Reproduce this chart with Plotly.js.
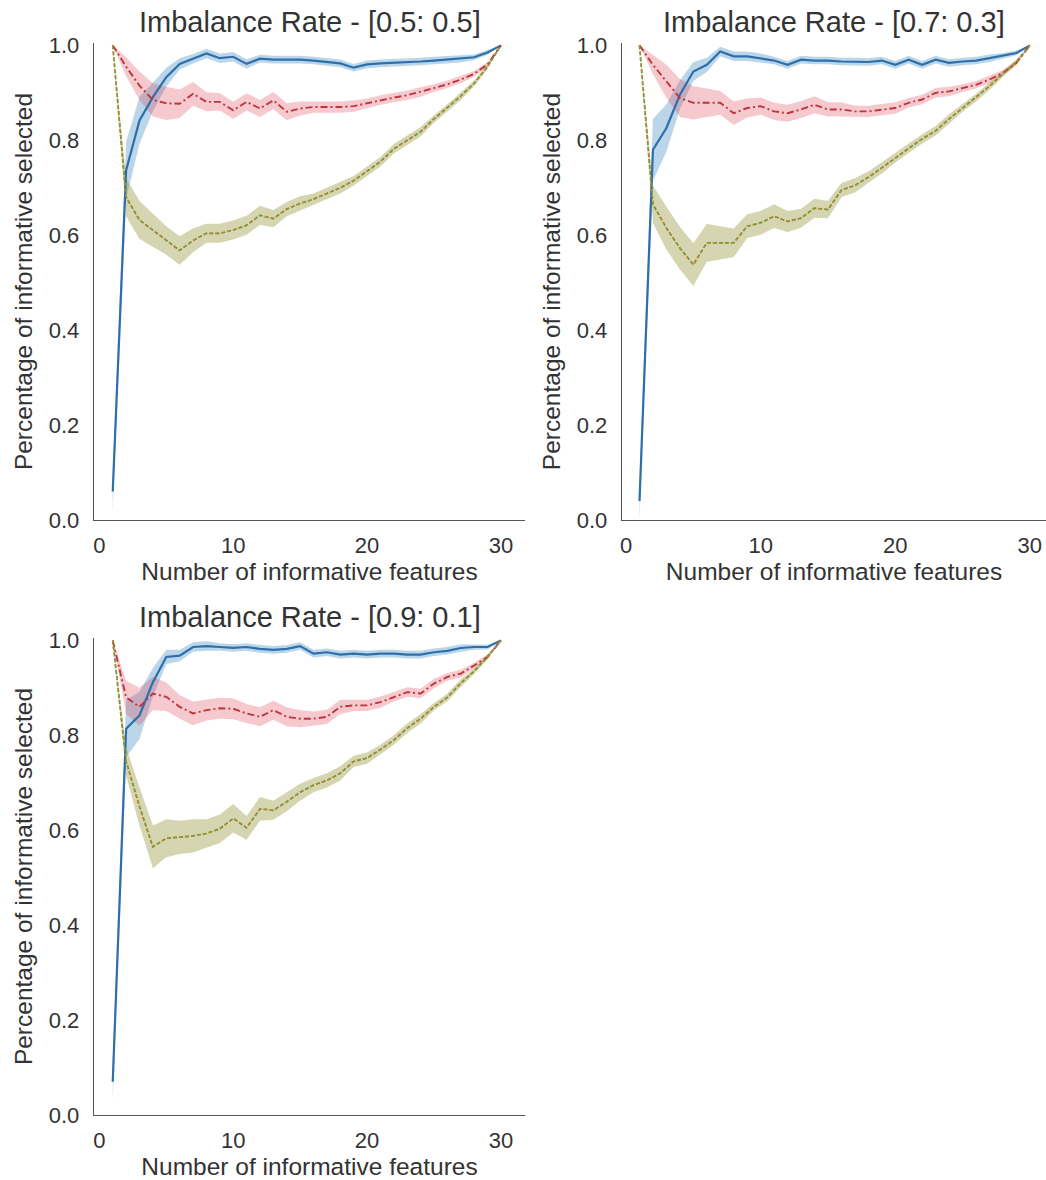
<!DOCTYPE html>
<html>
<head>
<meta charset="utf-8">
<script src="https://cdn.plot.ly/plotly-3.0.1.min.js"></script>
<style>
  html, body { margin: 0; padding: 0; background: #ffffff; }
  #chart { width: 1046px; height: 1180px; }
</style>
</head>
<body>
<div id="chart"></div>
<script>
// Number of informative features (x) shared by every panel
const nFeatures = [1,2,3,4,5,6,7,8,9,10,11,12,13,14,15,16,17,18,19,20,21,22,23,24,25,26,27,28,29,30];

const panelTitles = [
  'Imbalance Rate - [0.5: 0.5]',
  'Imbalance Rate - [0.7: 0.3]',
  'Imbalance Rate - [0.9: 0.1]'
];

const xTickVals = [0, 10, 20, 30];
const yTickVals = [0.0, 0.2, 0.4, 0.6, 0.8, 1.0];

// ---- Imbalance 0.5 : 0.5 ----
const blueA = [0.06,0.737,0.842,0.891,0.933,0.961,0.972,0.983,0.973,0.976,0.961,0.972,0.970,0.970,0.970,0.968,0.965,0.962,0.953,0.960,0.962,0.963,0.965,0.966,0.968,0.970,0.972,0.975,0.985,1.0];
const blueErrA = [0.04,0.06,0.05,0.03,0.02,0.012,0.01,0.01,0.01,0.01,0.01,0.008,0.008,0.008,0.008,0.008,0.008,0.008,0.008,0.008,0.008,0.008,0.008,0.008,0.008,0.008,0.008,0.006,0.005,0];
const redA = [1.0,0.955,0.915,0.885,0.878,0.877,0.898,0.881,0.881,0.863,0.881,0.867,0.884,0.860,0.867,0.870,0.870,0.870,0.872,0.878,0.885,0.890,0.895,0.902,0.910,0.918,0.928,0.940,0.960,1.0];
const redErrA = [0,0.02,0.03,0.035,0.035,0.03,0.025,0.02,0.018,0.018,0.018,0.018,0.018,0.018,0.015,0.012,0.012,0.012,0.012,0.01,0.01,0.01,0.01,0.01,0.008,0.008,0.008,0.006,0.005,0];
const greenA = [1.0,0.68,0.632,0.611,0.589,0.568,0.589,0.604,0.604,0.611,0.621,0.642,0.635,0.655,0.667,0.676,0.688,0.700,0.715,0.735,0.755,0.782,0.800,0.818,0.845,0.868,0.893,0.92,0.955,1.0];
const greenErrA = [0,0.04,0.04,0.035,0.03,0.03,0.025,0.02,0.02,0.02,0.02,0.02,0.018,0.015,0.015,0.012,0.012,0.012,0.01,0.01,0.01,0.01,0.01,0.01,0.008,0.008,0.008,0.006,0.005,0];

// ---- Imbalance 0.7 : 0.3 ----
const blueB = [0.04,0.78,0.826,0.896,0.945,0.959,0.987,0.977,0.977,0.973,0.968,0.959,0.970,0.968,0.968,0.966,0.966,0.965,0.968,0.959,0.970,0.959,0.970,0.963,0.966,0.968,0.973,0.978,0.984,1.0];
const blueErrB = [0.04,0.065,0.05,0.03,0.02,0.015,0.01,0.01,0.01,0.01,0.008,0.008,0.008,0.008,0.008,0.008,0.008,0.008,0.008,0.008,0.008,0.008,0.008,0.008,0.008,0.008,0.008,0.006,0.005,0];
const redB = [1.0,0.959,0.924,0.889,0.879,0.879,0.879,0.857,0.868,0.872,0.861,0.857,0.865,0.875,0.865,0.865,0.861,0.861,0.865,0.868,0.879,0.886,0.900,0.903,0.910,0.917,0.928,0.942,0.963,1.0];
const redErrB = [0,0.02,0.035,0.04,0.035,0.03,0.025,0.025,0.02,0.018,0.018,0.018,0.018,0.018,0.015,0.015,0.012,0.012,0.012,0.012,0.01,0.01,0.01,0.01,0.008,0.008,0.008,0.006,0.005,0];
const greenB = [1.0,0.665,0.615,0.573,0.538,0.584,0.584,0.584,0.619,0.626,0.640,0.629,0.636,0.657,0.654,0.695,0.705,0.722,0.742,0.763,0.783,0.803,0.820,0.845,0.868,0.890,0.914,0.940,0.965,1.0];
const greenErrB = [0,0.04,0.045,0.045,0.045,0.04,0.035,0.03,0.025,0.025,0.025,0.022,0.02,0.02,0.018,0.015,0.015,0.012,0.012,0.01,0.01,0.01,0.01,0.01,0.008,0.008,0.008,0.006,0.005,0];

// ---- Imbalance 0.9 : 0.1 ----
const blueC = [0.07,0.814,0.842,0.912,0.965,0.968,0.986,0.988,0.986,0.984,0.986,0.982,0.980,0.982,0.988,0.972,0.975,0.970,0.972,0.970,0.972,0.972,0.970,0.970,0.975,0.978,0.984,0.986,0.986,1.0];
const blueErrC = [0.04,0.06,0.05,0.03,0.015,0.012,0.01,0.01,0.008,0.008,0.008,0.008,0.008,0.008,0.008,0.008,0.008,0.008,0.008,0.008,0.008,0.008,0.008,0.008,0.008,0.008,0.008,0.006,0.005,0];
const redC = [1.0,0.88,0.86,0.888,0.881,0.860,0.846,0.853,0.857,0.856,0.846,0.839,0.853,0.839,0.835,0.835,0.839,0.860,0.863,0.863,0.870,0.881,0.891,0.888,0.909,0.923,0.930,0.947,0.965,1.0];
const redErrC = [0,0.035,0.04,0.035,0.03,0.025,0.025,0.022,0.022,0.022,0.02,0.02,0.02,0.02,0.018,0.015,0.015,0.015,0.012,0.012,0.012,0.01,0.01,0.01,0.01,0.008,0.008,0.006,0.005,0];
const greenC = [1.0,0.745,0.65,0.565,0.583,0.585,0.588,0.593,0.603,0.625,0.605,0.645,0.642,0.660,0.680,0.695,0.705,0.720,0.745,0.752,0.770,0.790,0.815,0.835,0.860,0.880,0.910,0.935,0.965,1.0];
const greenErrC = [0,0.03,0.04,0.045,0.04,0.035,0.035,0.03,0.03,0.03,0.025,0.025,0.02,0.02,0.018,0.015,0.015,0.015,0.012,0.012,0.01,0.01,0.01,0.01,0.008,0.008,0.008,0.006,0.005,0];

const panels = [
  { xa: 'x',  ya: 'y',  blue: [blueA, blueErrA], red: [redA, redErrA], green: [greenA, greenErrA] },
  { xa: 'x2', ya: 'y2', blue: [blueB, blueErrB], red: [redB, redErrB], green: [greenB, greenErrB] },
  { xa: 'x3', ya: 'y3', blue: [blueC, blueErrC], red: [redC, redErrC], green: [greenC, greenErrC] }
];

const styles = {
  blue:  { band: 'rgba(31,119,180,0.30)', lines: [{ color: '#2d6fab', width: 2.2, dash: 'solid' }] },
  red:   { band: 'rgba(220,60,80,0.28)',  lines: [{ color: '#c0353c', width: 1.9, dash: '7px,3px,2px,3px' }] },
  green: { band: 'rgba(150,150,60,0.40)', lines: [{ color: '#5d9a35', width: 1.7, dash: '4px,2px' },
                                                   { color: '#d4822c', width: 1.7, dash: '2px,4px' }] }
};

const bandTraces = [];
const lineTraces = [];
panels.forEach(p => {
  ['blue', 'red', 'green'].forEach(key => {
    const [mean, err] = p[key];
    const lower = mean.map((v, i) => v - err[i]);
    const upper = mean.map((v, i) => v + err[i]);
    bandTraces.push({
      x: nFeatures, y: lower, xaxis: p.xa, yaxis: p.ya, type: 'scatter', mode: 'lines',
      line: { width: 0, color: 'rgba(0,0,0,0)' }, hoverinfo: 'skip', showlegend: false
    });
    bandTraces.push({
      x: nFeatures, y: upper, xaxis: p.xa, yaxis: p.ya, type: 'scatter', mode: 'lines',
      line: { width: 0, color: 'rgba(0,0,0,0)' }, fill: 'tonexty', fillcolor: styles[key].band,
      hoverinfo: 'skip', showlegend: false
    });
    styles[key].lines.forEach(ls => {
      lineTraces.push({
        x: nFeatures, y: mean, xaxis: p.xa, yaxis: p.ya, type: 'scatter', mode: 'lines',
        line: { color: ls.color, width: ls.width, dash: ls.dash }, showlegend: false
      });
    });
  });
});

const W = 1046, H = 1180;
const textColor = '#333333';
const fontFamily = 'Liberation Sans, Arial, Helvetica, sans-serif';

function xAxis(left, right, anchor, range) {
  return {
    domain: [left / W, right / W], anchor: anchor, range: range,
    tickmode: 'array', tickvals: xTickVals, ticks: '', ticklabelstandoff: 5,
    showgrid: false, zeroline: false, showline: true, linecolor: '#555555', linewidth: 1.3,
    tickfont: { family: fontFamily, size: 22, color: textColor },
    title: { text: 'Number of informative features', font: { family: fontFamily, size: 24.5, color: textColor }, standoff: 6 }
  };
}
function yAxis(top, bottom, anchor) {
  return {
    domain: [1 - bottom / H, 1 - top / H], anchor: anchor, range: [0, 1.005],
    tickmode: 'array', tickvals: yTickVals, tickformat: '.1f', ticks: '', ticklabelstandoff: 9,
    showgrid: false, zeroline: false, showline: true, linecolor: '#555555', linewidth: 1.3,
    tickfont: { family: fontFamily, size: 22, color: textColor },
    title: { text: 'Percentage of informative selected', font: { family: fontFamily, size: 24.5, color: textColor }, standoff: 9 }
  };
}

const titleAnn = (text, xa, ya) => ({
  text: text, xref: xa + ' domain', yref: ya + ' domain', x: 0.5, y: 1,
  xanchor: 'center', yanchor: 'bottom', yshift: 3, showarrow: false,
  font: { family: fontFamily, size: 29, color: textColor }
});

const layout = {
  width: W, height: H,
  margin: { l: 0, r: 0, t: 0, b: 0 },
  paper_bgcolor: '#ffffff', plot_bgcolor: '#ffffff',
  showlegend: false,
  xaxis:  xAxis(94, 525, 'y', [-0.4, 31.8]),
  yaxis:  yAxis(43, 520, 'x'),
  xaxis2: xAxis(622, 1046, 'y2', [-0.3, 31.2]),
  yaxis2: yAxis(43, 520, 'x2'),
  xaxis3: xAxis(94, 525, 'y3', [-0.4, 31.8]),
  yaxis3: yAxis(638, 1115, 'x3'),
  annotations: [
    titleAnn(panelTitles[0], 'x', 'y'),
    titleAnn(panelTitles[1], 'x2', 'y2'),
    titleAnn(panelTitles[2], 'x3', 'y3')
  ]
};

Plotly.newPlot('chart', bandTraces.concat(lineTraces), layout, { staticPlot: true, displayModeBar: false });
</script>
</body>
</html>
